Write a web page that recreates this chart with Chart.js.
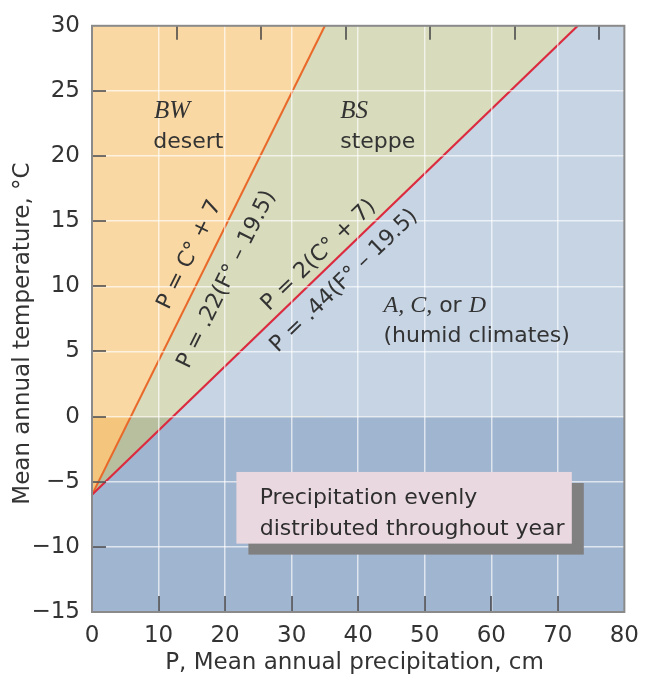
<!DOCTYPE html>
<html><head><meta charset="utf-8">
<script src="https://cdn.jsdelivr.net/npm/chart.js@4/dist/chart.umd.min.js"></script>
<style>html,body{margin:0;padding:0;background:#fff}#wrap{width:649px;height:684px;position:relative}</style>
</head><body><div id="wrap"><canvas id="c" width="649" height="684"></canvas></div>
<script>
// ---- data ----
const xTickValues = [0, 10, 20, 30, 40, 50, 60, 70, 80];
const xTickLabels = ['0', '10', '20', '30', '40', '50', '60', '70', '80'];
const yTickValues = [-15, -10, -5, 0, 5, 10, 15, 20, 25, 30];
const yTickLabels = ['\u221215', '\u221210', '\u22125', '0', '5', '10', '15', '20', '25', '30'];
const topInchValues = [5, 10, 15, 20, 25, 30];
const CM_PER_INCH = 2.54;

// boundary BW / BS : P = C + 7  (cm, °C)
const desertBoundaryP = [0, 35];
const desertBoundaryT = [-6, 30];
// boundary BS / humid : P = 2(C + 7)
const steppeBoundaryP = [0, 73];
const steppeBoundaryT = [-6, 30];
// freezing line and top edge
const fullRangeP = [0, 80];
const freezingT = [0, 0];
const topEdgeT = [30, 30];

const pts = (xs, ys) => xs.map((x, i) => ({x: x, y: ys[i]}));

const COL = {
  humidLight: '#c6d4e4', humidDark: '#a0b6d0',
  steppeLight: '#d8dbbc', steppeDark: '#b8bf9f',
  desertLight: '#fad8a3', desertDark: '#f4c57c',
  orange: '#e8692a', red: '#dc2a3e',
  text: '#333333', box: '#ead8e0', shadow: '#808080'
};
const SANS = "'DejaVu Sans', sans-serif";
const SERIF = "'Liberation Serif', serif";

const ANN = {
  bw: {P: 9.3, T: 22.9}, desert: {P: 9.2, T: 20.6},
  bs: {P: 37.3, T: 22.9}, steppe: {P: 37.3, T: 20.6},
  humid1: {P: 43.8, T: 8.0}, humid2: {P: 43.8, T: 5.75},
  eqs: [
    {text: 'P = C\u00b0 + 7', P: 14.7, T: 12.42, along: 'desert'},
    {text: 'P = .22(F\u00b0 \u2013 19.5)', P: 20.25, T: 10.53, along: 'desert'},
    {text: 'P = 2(C\u00b0 + 7)', P: 34.1, T: 12.37, along: 'steppe'},
    {text: 'P = .44(F\u00b0 \u2013 19.5)', P: 37.9, T: 10.4, along: 'steppe'}
  ],
  box: {P0: 21.7, P1: 72.1, T0: -4.25, T1: -9.75, dx: 12, dy: 11},
  boxText: {P: 25.2, T1: -6.74, T2: -9.09}
};

const base = {pointRadius: 0, pointHoverRadius: 0, borderWidth: 0, tension: 0};

const annotations = {
  id: 'annotations',
  afterDraw(chart) {
    const {ctx, chartArea: ca, scales: {x, y}} = chart;
    const px = v => x.getPixelForValue(v), py = v => y.getPixelForValue(v);
    const seg = (x1, y1, x2, y2) => { ctx.beginPath(); ctx.moveTo(x1, y1); ctx.lineTo(x2, y2); ctx.stroke(); };
    ctx.save();
    // inside tick marks
    ctx.strokeStyle = 'rgba(55,55,60,0.7)';
    ctx.lineWidth = 2;
    xTickValues.filter(v => v > 0 && v < 80).forEach(v => { const X = Math.round(px(v)); seg(X, ca.bottom, X, ca.bottom - 16); });
    topInchValues.forEach(v => { const X = Math.round(px(v * CM_PER_INCH)); seg(X, ca.top, X, ca.top + 14); });
    yTickValues.filter(v => v > -15 && v < 30).forEach(v => { const Y = Math.round(py(v)); seg(ca.left, Y, ca.left + 14, Y); });
    // frame
    ctx.strokeStyle = '#8a8a8a';
    ctx.lineWidth = 2;
    ctx.strokeRect(ca.left, ca.top, ca.right - ca.left, ca.bottom - ca.top);

    ctx.fillStyle = COL.text;
    // zone labels
    ctx.textAlign = 'left'; ctx.textBaseline = 'alphabetic';
    ctx.font = 'italic 25px ' + SERIF;
    ctx.fillText('BW', px(ANN.bw.P), py(ANN.bw.T));
    ctx.fillText('BS', px(ANN.bs.P), py(ANN.bs.T));
    ctx.font = '22px ' + SANS;
    ctx.fillText('desert', px(ANN.desert.P), py(ANN.desert.T));
    ctx.fillText('steppe', px(ANN.steppe.P), py(ANN.steppe.T));
    // A, C, or D
    let cx = px(ANN.humid1.P); const cy = py(ANN.humid1.T);
    [['A, C,', 'italic 24px ' + SERIF], [' or ', '22px ' + SANS], ['D', 'italic 24px ' + SERIF]].forEach(([t, f]) => {
      ctx.font = f; ctx.fillText(t, cx, cy); cx += ctx.measureText(t).width;
    });
    ctx.font = '22px ' + SANS;
    ctx.fillText('(humid climates)', px(ANN.humid2.P), py(ANN.humid2.T));

    // equations along boundaries
    const lines = {desert: [desertBoundaryP, desertBoundaryT], steppe: [steppeBoundaryP, steppeBoundaryT]};
    ANN.eqs.forEach(e => {
      const [lp, lt] = lines[e.along];
      const ang = Math.atan2(py(lt[1]) - py(lt[0]), px(lp[1]) - px(lp[0]));
      ctx.save();
      ctx.translate(px(e.P), py(e.T));
      ctx.rotate(ang);
      ctx.textAlign = 'center'; ctx.textBaseline = 'middle';
      ctx.font = '22px ' + SANS;
      ctx.fillText(e.text, 0, 0);
      ctx.restore();
    });

    // note box with shadow
    const b = ANN.box;
    const bx0 = px(b.P0), bx1 = px(b.P1), by0 = py(b.T0), by1 = py(b.T1);
    ctx.fillStyle = COL.shadow;
    ctx.fillRect(bx0 + b.dx, by0 + b.dy, bx1 - bx0, by1 - by0);
    ctx.fillStyle = COL.box;
    ctx.fillRect(bx0, by0, bx1 - bx0, by1 - by0);
    ctx.fillStyle = '#2e2e2e';
    ctx.font = '22px ' + SANS;
    ctx.textAlign = 'left'; ctx.textBaseline = 'alphabetic';
    ctx.fillText('Precipitation evenly', px(ANN.boxText.P), py(ANN.boxText.T1));
    ctx.fillText('distributed throughout year', px(ANN.boxText.P), py(ANN.boxText.T2));
    ctx.restore();
  }
};

const gridColor = edge => ctx => (ctx.tick && edge.includes(ctx.tick.value)) ? 'rgba(0,0,0,0)' : 'rgba(255,255,255,0.65)';

new Chart(document.getElementById('c'), {
  type: 'line',
  data: {
    datasets: [
      {...base, label: 'humid', data: pts(fullRangeP, topEdgeT), fill: {value: 0}, backgroundColor: COL.humidLight, order: 10},
      {...base, label: 'humid frost', data: pts(fullRangeP, freezingT), fill: 'start', backgroundColor: COL.humidDark, order: 9},
      {...base, label: 'steppe', data: pts(steppeBoundaryP, steppeBoundaryT), fill: 'end', backgroundColor: COL.steppeLight, order: 8},
      {...base, label: 'steppe frost', data: pts(steppeBoundaryP, steppeBoundaryT), fill: {target: {value: 0}, above: 'rgba(0,0,0,0)', below: COL.steppeDark}, order: 7},
      {...base, label: 'desert', data: pts(desertBoundaryP, desertBoundaryT), fill: 'end', backgroundColor: COL.desertLight, order: 6},
      {...base, label: 'desert frost', data: pts(desertBoundaryP, desertBoundaryT), fill: {target: {value: 0}, above: 'rgba(0,0,0,0)', below: COL.desertDark}, order: 5},
      {...base, label: 'P = C + 7', data: pts(desertBoundaryP, desertBoundaryT), fill: false, borderColor: COL.orange, borderWidth: 2, order: 2},
      {...base, label: 'P = 2(C + 7)', data: pts(steppeBoundaryP, steppeBoundaryT), fill: false, borderColor: COL.red, borderWidth: 2.2, order: 1}
    ]
  },
  options: {
    responsive: false,
    animation: false,
    events: [],
    layout: {padding: {top: 18, right: 19, bottom: 0, left: 0}},
    plugins: {legend: {display: false}, tooltip: {enabled: false}},
    scales: {
      x: {
        type: 'linear', position: 'bottom', min: 0, max: 80,
        afterBuildTicks: s => { s.ticks = xTickValues.map(v => ({value: v})); },
        afterFit: s => { s.height = 72; },
        ticks: {callback: v => xTickLabels[xTickValues.indexOf(v)], font: {family: SANS, size: 23}, color: COL.text, padding: 10, maxRotation: 0, autoSkip: false},
        grid: {z: 1, color: gridColor([0, 80]), lineWidth: 1.5, drawTicks: false},
        border: {display: false},
        title: {display: true, text: 'P, Mean annual precipitation, cm ', font: {family: SANS, size: 23}, color: COL.text, padding: {top: 0, bottom: 7}}
      },
      y: {
        type: 'linear', position: 'left', min: -15, max: 30,
        afterBuildTicks: s => { s.ticks = yTickValues.map(v => ({value: v})); },
        afterFit: s => { s.width = 92; },
        ticks: {callback: v => yTickLabels[yTickValues.indexOf(v)], font: {family: SANS, size: 23}, color: COL.text, padding: 12, autoSkip: false},
        grid: {z: 1, color: gridColor([-15, 30]), lineWidth: 1.5, drawTicks: false},
        border: {display: false},
        title: {display: true, text: 'Mean annual temperature, \u00b0C    ', font: {family: SANS, size: 23}, color: COL.text, padding: {top: 9, bottom: 0}}
      }
    }
  },
  plugins: [annotations]
});
</script>
</body></html>
